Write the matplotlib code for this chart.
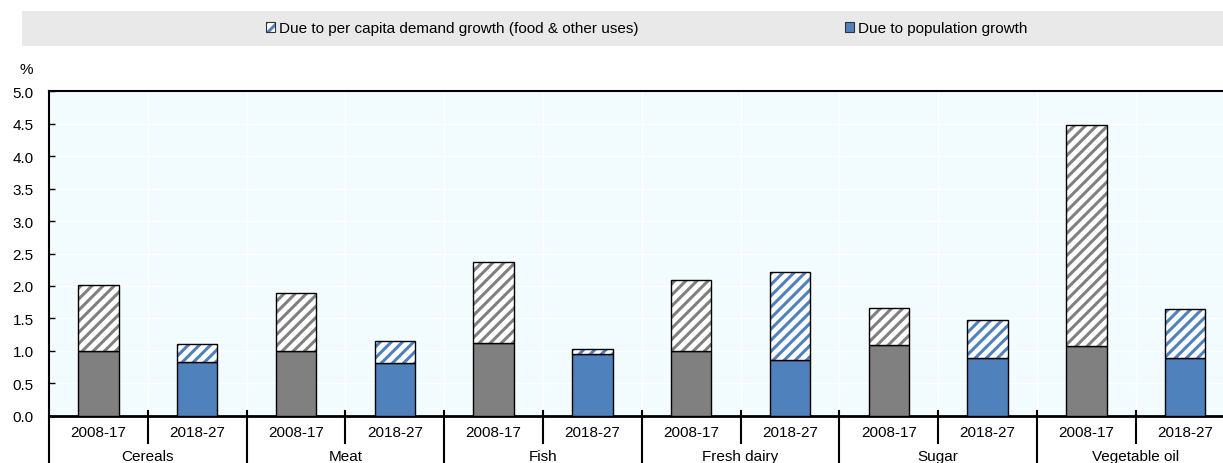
import matplotlib
matplotlib.use("Agg")
import matplotlib.pyplot as plt
from matplotlib.patches import Rectangle, Patch
from matplotlib.transforms import blended_transform_factory
import numpy as np

plt.rcParams['font.family'] = ['Liberation Sans', 'DejaVu Sans']
plt.rcParams['hatch.linewidth'] = 2.2

categories = ["Cereals", "Meat", "Fish", "Fresh dairy", "Sugar", "Vegetable oil"]
periods = ["2008-17", "2018-27"]
population = [1.00, 0.83, 0.99, 0.81, 1.12, 0.95, 1.00, 0.86, 1.09, 0.89, 1.07, 0.89]
per_capita = [1.01, 0.27, 0.90, 0.34, 1.25, 0.08, 1.09, 1.35, 0.57, 0.59, 3.41, 0.76]
legend_labels = ["Due to per capita demand growth (food & other uses)", "Due to population growth"]

GRAY = "#808080"
BLUE = "#4f81bd"
BG = "#f2fcff"

W, H = 1223, 464
fig = plt.figure(figsize=(W / 100, H / 100), dpi=100)

# axes geometry in pixels
left_px, top_px, bottom_px, slot = 49, 92.3, 416.7, 98.8
ax = fig.add_axes([left_px / W, (H - bottom_px) / H, 12 * slot / W, (bottom_px - top_px) / H])
ax.set_facecolor(BG)

n = len(categories) * len(periods)
x = np.arange(n)
bw = 0.41
base_colors = [GRAY if i % 2 == 0 else BLUE for i in range(n)]

ax.bar(x, population, width=bw, color=base_colors, edgecolor="black", linewidth=1.0, zorder=3)
for i in range(n):
    ax.bar(x[i], per_capita[i], bottom=population[i], width=bw, facecolor="white",
           edgecolor=base_colors[i], hatch="///", linewidth=0, zorder=3)
ax.bar(x, per_capita, bottom=population, width=bw, fill=False, edgecolor="black",
       linewidth=1.0, zorder=4)

ax.set_xlim(-0.5, n - 0.5)
ax.set_ylim(0, 5)
ax.set_yticks(np.arange(0, 5.01, 0.5))
ax.set_yticklabels([f"{v:.1f}" for v in np.arange(0, 5.01, 0.5)], fontsize=11)
ax.tick_params(axis='y', direction='in', length=4, width=1, pad=11)

ax.set_xticks(x)
ax.set_xticklabels([periods[i % 2] for i in range(n)], fontsize=11)
ax.tick_params(axis='x', length=0, pad=7)

# gridlines
for yv in np.arange(0.5, 5.0, 0.5):
    ax.axhline(yv, color="white", lw=1, zorder=1)
for xv in np.arange(0.5, n - 0.5, 1):
    ax.axvline(xv, color="white", lw=1, zorder=1)

ax.spines["right"].set_visible(False)
ax.spines["top"].set_linewidth(1.5)
ax.spines["left"].set_linewidth(1.5)
ax.spines["bottom"].set_linewidth(2)

axh = bottom_px - top_px
tr = blended_transform_factory(ax.transData, ax.transAxes)
for i in range(len(categories)):
    xs = 2 * i + 0.5
    ax.plot([xs, xs], [5 / axh, -27 / axh], color="black", lw=1.5, transform=tr, clip_on=False)
    xg = 2 * i - 0.5
    ax.plot([xg, xg], [0 if i == 0 else 5 / axh, -60 / axh], color="black", lw=1.5,
            transform=tr, clip_on=False)
    ax.text(2 * i + 0.5, -(450 - bottom_px) / axh, categories[i], transform=tr,
            ha="center", va="top", fontsize=11)

fig.text(26 / W, 1 - 70 / H, "%", ha="center", va="center", fontsize=11)

# legend band
fig.patches.append(Rectangle((22 / W, 1 - 47 / H), 1 - 22 / W, 35 / H,
                             transform=fig.transFigure, facecolor="#e9e9e9",
                             edgecolor="none", zorder=0))
h1 = (Patch(facecolor="white", edgecolor=BLUE, hatch="///", linewidth=0),
      Patch(fill=False, edgecolor="#333333", linewidth=0.8))
h2 = Patch(facecolor=BLUE, edgecolor="#333333", linewidth=0.8)
for h, lab, xp in [(h1, legend_labels[0], 266), (h2, legend_labels[1], 845)]:
    fig.legend([h], [lab], loc="center left", bbox_to_anchor=(xp / W, 1 - 29.5 / H),
               frameon=False, fontsize=11, handlelength=0.6, handleheight=0.6,
               handletextpad=0.25, borderpad=0, borderaxespad=0)

fig.savefig("out.png", dpi=100)
